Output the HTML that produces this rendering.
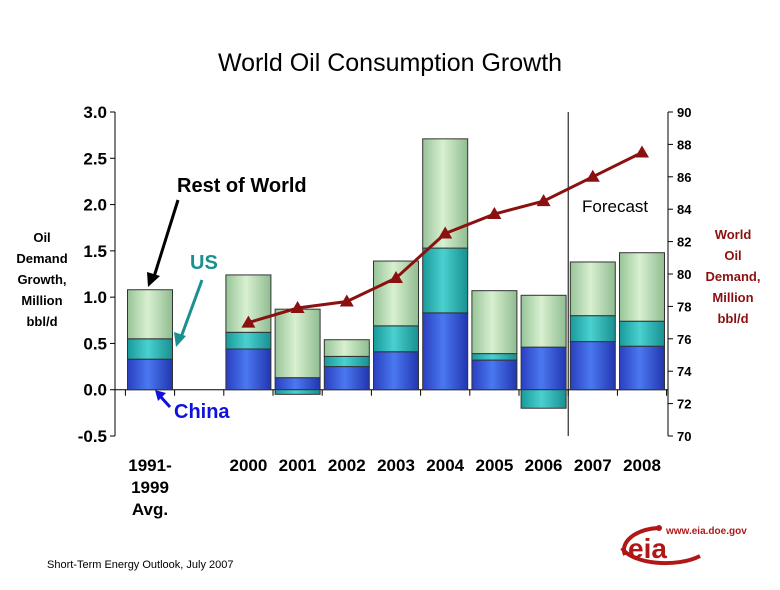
<!DOCTYPE html>
<html><head><meta charset="utf-8"><style>
body{margin:0;background:#fff;width:780px;height:585px;overflow:hidden;font-family:"Liberation Sans",Arial,sans-serif}
</style></head><body>
<svg id="chart" width="780" height="585" xmlns="http://www.w3.org/2000/svg" font-family="Liberation Sans, Arial, sans-serif">
<defs>
<linearGradient id="gC" x1="0" x2="1"><stop offset="0" stop-color="#2a3fc0"/><stop offset="0.45" stop-color="#4a78f0"/><stop offset="1" stop-color="#2236b0"/></linearGradient>
<linearGradient id="gU" x1="0" x2="1"><stop offset="0" stop-color="#1a9a9a"/><stop offset="0.45" stop-color="#4ad0d0"/><stop offset="1" stop-color="#189090"/></linearGradient>
<linearGradient id="gR" x1="0" x2="1"><stop offset="0" stop-color="#98c498"/><stop offset="0.45" stop-color="#d8f0d0"/><stop offset="1" stop-color="#90bc90"/></linearGradient>
</defs>
<text x="390" y="71" text-anchor="middle" font-size="25">World Oil Consumption Growth</text>
<g id="plot"></g>
<text x="582" y="212" font-size="17">Forecast</text>
<g font-size="13" font-weight="bold" text-anchor="middle">
<text x="42" y="242">Oil</text><text x="42" y="263">Demand</text><text x="42" y="284">Growth,</text><text x="42" y="305">Million</text><text x="42" y="326">bbl/d</text></g>
<g font-size="13" font-weight="bold" text-anchor="middle" fill="#8b1010">
<text x="733" y="239">World</text><text x="733" y="260">Oil</text><text x="733" y="281">Demand,</text><text x="733" y="302">Million</text><text x="733" y="323">bbl/d</text></g>
<text x="177" y="192" font-size="20" font-weight="bold">Rest of World</text>
<line x1="178" y1="200" x2="153" y2="280" stroke="#000" stroke-width="3"/>
<polygon points="148,287 147,272 160,276" fill="#000"/>
<text x="190" y="269" font-size="20" font-weight="bold" fill="#1a9090">US</text>
<line x1="202" y1="280" x2="180" y2="340" stroke="#1a9090" stroke-width="3"/>
<polygon points="176,347 174,332 186,336" fill="#1a9090"/>
<text x="174" y="418" font-size="20" font-weight="bold" fill="#1010e0">China</text>
<line x1="170" y1="407" x2="160" y2="396" stroke="#1010e0" stroke-width="3"/>
<polygon points="155,390 166,393 158,401" fill="#1010e0"/>
<text x="47" y="568" font-size="11">Short-Term Energy Outlook, July 2007</text>
<g>
<path d="M625,555 A38,22 0 0 1 658,528" fill="none" stroke="#b01818" stroke-width="4"/>
<path d="M622,548 A45,20 0 0 0 700,556" fill="none" stroke="#b01818" stroke-width="4"/>
<circle cx="659" cy="528" r="3" fill="#b01818"/>
<text x="628" y="558" font-size="28" font-weight="bold" fill="#b01818">eia</text>
<text x="666" y="534" font-size="10" font-weight="bold" fill="#b01818">www.eia.doe.gov</text>
</g>
</svg>
<script>
const categories=["1991-1999 Avg.","","2000","2001","2002","2003","2004","2005","2006","2007","2008"];
const china=[0.33,null,0.44,0.13,0.25,0.41,0.83,0.32,0.46,0.52,0.47];
const us=[0.22,null,0.18,-0.05,0.11,0.28,0.70,0.07,-0.20,0.28,0.27];
const rest=[0.53,null,0.62,0.74,0.18,0.70,1.18,0.68,0.56,0.58,0.74];
const worldDemand=[null,null,77.0,77.9,78.3,79.75,82.5,83.7,84.5,86.0,87.5];
const leftTicks=["3.0","2.5","2.0","1.5","1.0","0.5","0.0","-0.5"];
const rightTicks=[90,88,86,84,82,80,78,76,74,72,70];
const X0=115,X1=668,Y0=112,Y1=436,slot=49.2,firstC=150,bw=45;
const yL=v=>Y0+(3.0-v)*(Y1-Y0)/3.5;
const yR=v=>Y0+(90-v)*(Y1-Y0)/20;
const xc=i=>firstC+slot*i;
const NS="http://www.w3.org/2000/svg";
const g=document.getElementById('plot');
function mk(t,a,p){const e=document.createElementNS(NS,t);for(const k in a)e.setAttribute(k,a[k]);(p||g).appendChild(e);return e;}
let e=mk('line',{x1:X0,y1:Y0,x2:X0,y2:Y1,stroke:'#000'});


e=mk('line',{x1:X1,y1:Y0,x2:X1,y2:Y1,stroke:'#000'});


leftTicks.forEach(t=>{const y=yL(parseFloat(t));mk('line',{x1:X0-5,y1:y,x2:X0,y2:y,stroke:'#000'});
const tx=mk('text',{x:X0-8,y:y+6,'text-anchor':'end','font-size':17,'font-weight':'bold'});tx.textContent=t;

});
rightTicks.forEach(t=>{const y=yR(t);mk('line',{x1:X1,y1:y,x2:X1+5,y2:y,stroke:'#000'});
const tx=mk('text',{x:X1+9,y:y+5,'font-size':13,'font-weight':'bold'});tx.textContent=t;

});
const y0=yL(0);
e=mk('line',{x1:X0,y1:y0,x2:X1,y2:y0,stroke:'#000'});


for(let i=0;i<=categories.length;i++)mk('line',{x1:xc(i)-slot/2,y1:y0,x2:xc(i)-slot/2,y2:y0+6,stroke:'#000'});
e=mk('line',{x1:xc(9)-slot/2,y1:Y0,x2:xc(9)-slot/2,y2:Y1,stroke:'#000'});


function seg(i,a,b,fill,name){if(a===b)return;const r=mk('rect',{x:xc(i)-bw/2,y:Math.min(yL(a),yL(b)),width:bw,height:Math.abs(yL(a)-yL(b)),fill:fill,stroke:'#333','stroke-width':1});

}
categories.forEach((c,i)=>{
 if(china[i]!==null){
  let base=0;
  seg(i,0,china[i],'url(#gC)','bar-china-'+i);base=china[i];
  if(us[i]>=0){seg(i,base,base+us[i],'url(#gU)','bar-us-'+i);base+=us[i];}
  else seg(i,0,us[i],'url(#gU)','bar-us-'+i);
  seg(i,base,base+rest[i],'url(#gR)','bar-rest-'+i);
 }
 if(c){const parts=c==="1991-1999 Avg."?["1991-","1999","Avg."]:[c];
  parts.forEach((p,k)=>{const tx=mk('text',{x:xc(i),y:471+k*22,'text-anchor':'middle','font-size':17,'font-weight':'bold'});tx.textContent=p;
  
  });}
});
let pts=[];worldDemand.forEach((v,i)=>{if(v!==null)pts.push([xc(i),yR(v)]);});
e=mk('polyline',{points:pts.map(p=>p.join(',')).join(' '),fill:'none',stroke:'#8b1010','stroke-width':3});


pts.forEach(p=>{const m=mk('polygon',{points:`${p[0]},${p[1]-7} ${p[0]-7},${p[1]+5} ${p[0]+7},${p[1]+5}`,fill:'#8b1010'});

});
</script>
</body></html>
